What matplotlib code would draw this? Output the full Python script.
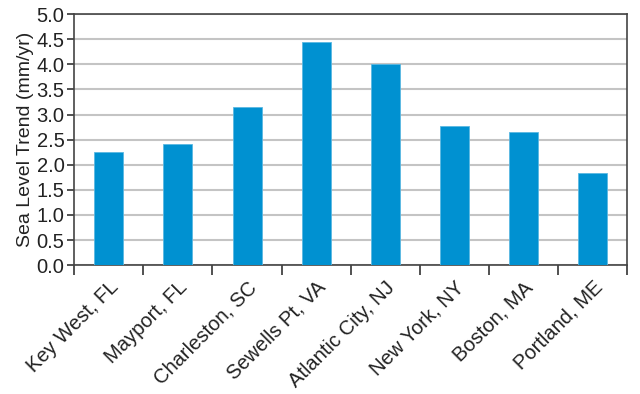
import matplotlib.pyplot as plt
import numpy as np

plt.rcParams['font.family'] = ['Liberation Sans', 'DejaVu Sans']

stations = ['Key West, FL', 'Mayport, FL', 'Charleston, SC', 'Sewells Pt, VA',
            'Atlantic City, NJ', 'New York, NY', 'Boston, MA', 'Portland, ME']
trend = [2.25, 2.41, 3.15, 4.44, 4.00, 2.78, 2.65, 1.83]

fig = plt.figure(figsize=(6.4, 3.94), dpi=100)
ax = fig.add_axes([0.116, 0.327, 0.864, 0.637])

x = np.arange(len(stations))
ax.bar(x, trend, width=0.42, color='#0091d1', edgecolor='#5ab8e2', linewidth=0.6, zorder=3)

ax.set_xlim(-0.5, len(stations) - 0.5)
ax.set_ylim(0, 5)
ax.set_yticks(np.arange(0, 5.01, 0.5))
ax.set_yticklabels([f'{v:.1f}' for v in np.arange(0, 5.01, 0.5)], fontsize=14.5, color='#222222')
ax.yaxis.grid(True, color='#c4c4c4', linewidth=1.5, zorder=0)

ax.set_xticks(x)
ax.set_xticklabels(stations, rotation=45, ha='right', rotation_mode='anchor', fontsize=14.5, color='#222222')
ax.tick_params(axis='x', which='major', length=0, pad=9)
ax.set_xticks(np.arange(-0.5, len(stations)), minor=True)
ax.tick_params(axis='x', which='minor', length=7, width=1.2, color='#333333', direction='out')
ax.tick_params(axis='y', length=5, width=1.2, color='#333333', pad=2)

for s in ax.spines.values():
    s.set_color('#444444')
    s.set_linewidth(1.2)

ax.set_ylabel('Sea Level Trend (mm/yr)', fontsize=14, labelpad=2, color='#222222')

fig.savefig('out.png', dpi=100)
